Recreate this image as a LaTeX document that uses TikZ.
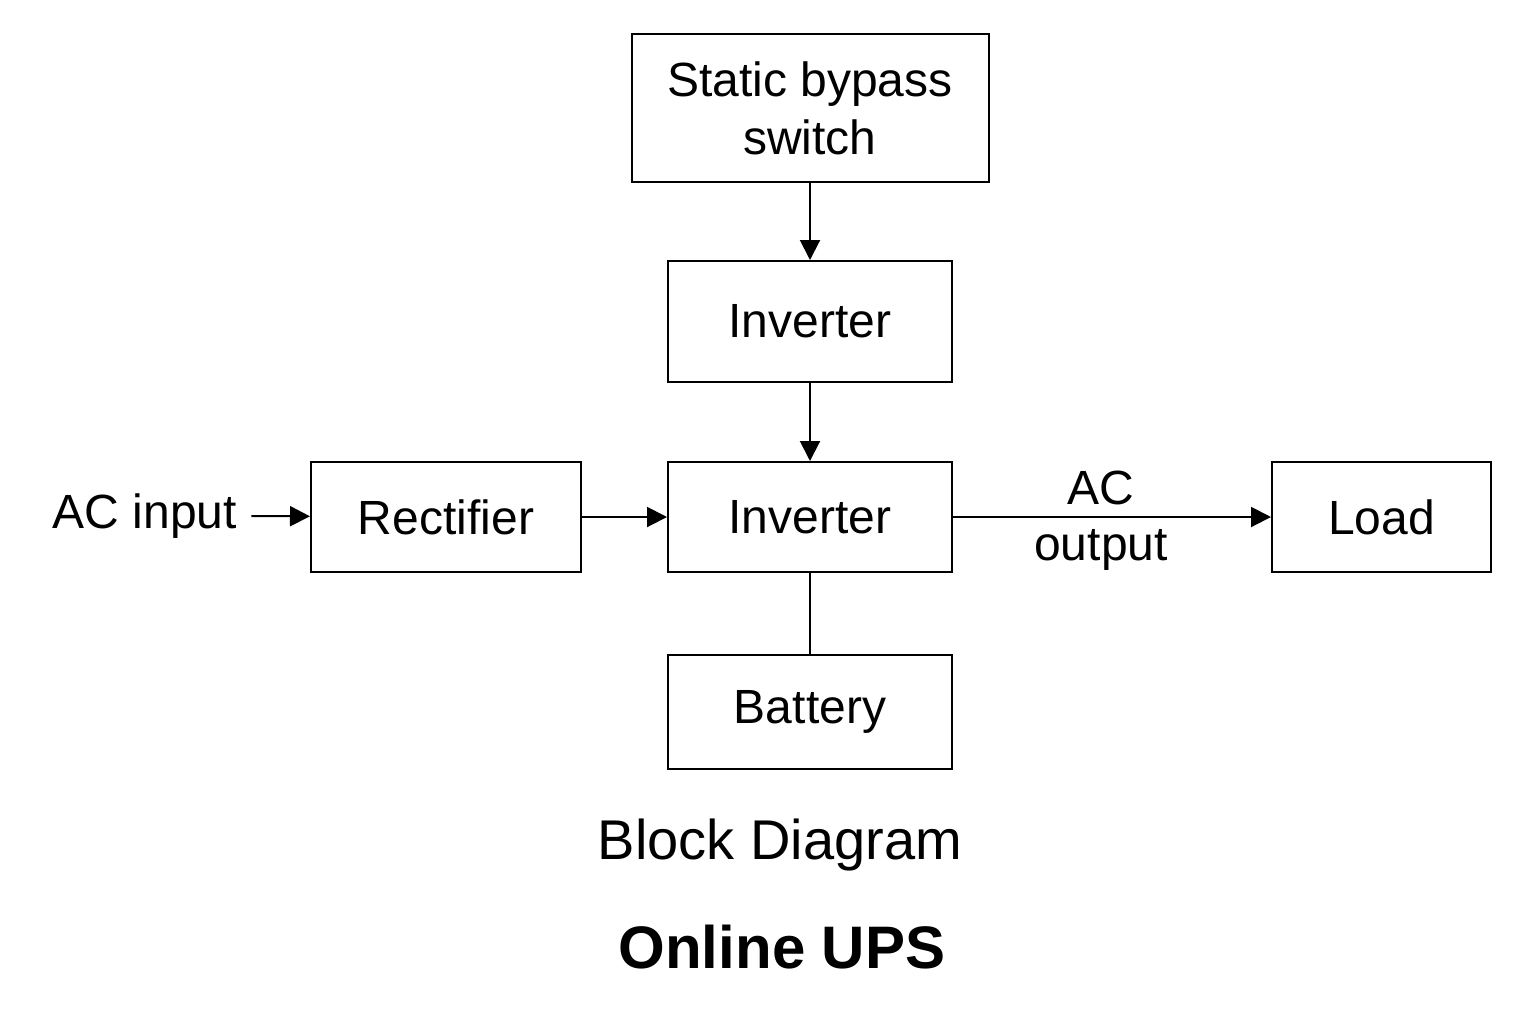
\documentclass[tikz,border=0pt]{standalone}
\usepackage{fontspec}
\setmainfont{Liberation Sans}
\usetikzlibrary{arrows.meta}
\begin{document}
\begin{tikzpicture}[x=0.5pt,y=-0.5pt,
  box/.style={draw,line width=1pt,inner sep=0pt,align=center,font=\fontsize{24}{29}\selectfont},
  lbl/.style={font=\fontsize{24}{29}\selectfont,align=center,inner sep=0pt},
  arr/.style={line width=1pt,-{Triangle[length=10pt,width=10pt]}},
  ln/.style={line width=1pt}]
\useasboundingbox (0,0) rectangle (1536,1024);
\node[box,minimum width=178.5pt,minimum height=74pt] (sbs) at (810,108) {Static bypass\\switch};
\node[box,minimum width=142pt,minimum height=60.5pt] (inv1) at (810,321.5) {Inverter};
\node[box,minimum width=135pt,minimum height=55pt] (rec) at (446,517) {Rectifier};
\node[box,minimum width=142pt,minimum height=55pt] (inv2) at (810,517) {Inverter};
\node[box,minimum width=109.5pt,minimum height=55pt] (load) at (1381.5,517) {Load};
\node[box,minimum width=142pt,minimum height=57pt] (bat) at (810,712) {Battery};
\node[lbl] (acin) at (145,516) {AC input};
\node[lbl] (aco1) at (1101,488) {AC};
\node[lbl] (aco2) at (1101,550) {output};
\node[lbl,font=\fontsize{28}{33}\selectfont] (bd) at (780,845) {Block Diagram};
\node[lbl,font=\fontsize{30}{35}\bfseries\selectfont] (ups) at (782,947) {Online UPS};
\draw[arr] (acin.east)++(14,0) coordinate (a0) (a0) -- (rec);
\draw[arr] (sbs) -- (inv1);
\draw[arr] (inv1) -- (inv2);
\draw[arr] (rec) -- (inv2);
\draw[arr] (inv2) -- (load);
\draw[ln] (inv2) -- (bat);
\end{tikzpicture}
\end{document}
